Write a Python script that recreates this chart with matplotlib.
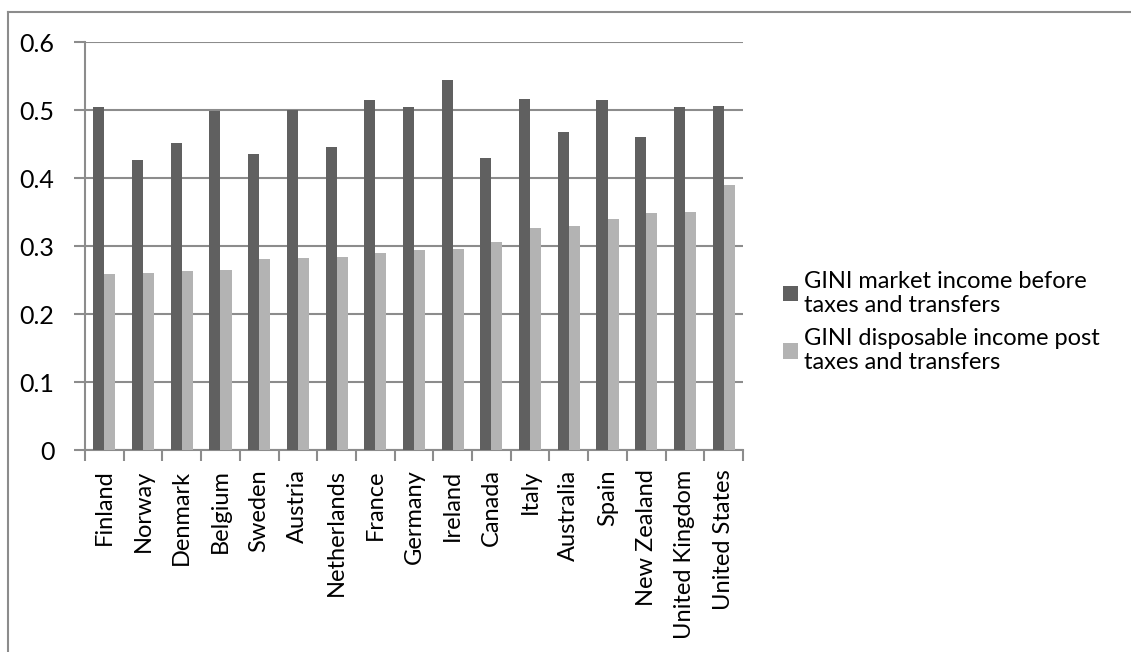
import matplotlib.pyplot as plt
import numpy as np
from matplotlib.lines import Line2D

countries = ["Finland", "Norway", "Denmark", "Belgium", "Sweden", "Austria",
             "Netherlands", "France", "Germany", "Ireland", "Canada", "Italy",
             "Australia", "Spain", "New Zealand", "United Kingdom", "United States"]
gini_market = [0.505, 0.427, 0.451, 0.499, 0.435, 0.500, 0.445, 0.515, 0.504,
               0.544, 0.430, 0.516, 0.468, 0.515, 0.461, 0.505, 0.506]
gini_disposable = [0.259, 0.261, 0.263, 0.265, 0.281, 0.283, 0.284, 0.290, 0.294,
                   0.296, 0.306, 0.327, 0.329, 0.340, 0.348, 0.350, 0.390]
legend_labels = ["GINI market income before\ntaxes and transfers",
                 "GINI disposable income post\ntaxes and transfers"]
yticks = [0, 0.1, 0.2, 0.3, 0.4, 0.5, 0.6]

plt.rcParams['font.family'] = ['Lato', 'DejaVu Sans']

fig = plt.figure(figsize=(11.31, 6.52), dpi=100)
ax = fig.add_axes([85 / 1131, 1 - 450 / 652, (743 - 85) / 1131, (450 - 42) / 652])

grid_c = "#8c8c8c"
x = np.arange(len(countries))
w = 1 / 3.5
ax.bar(x - w / 2, gini_market, w, color="#606060", label=legend_labels[0], zorder=3)
ax.bar(x + w / 2, gini_disposable, w, color="#b3b3b3", label=legend_labels[1], zorder=3)

ax.set_xlim(-0.5, len(countries) - 0.5)
ax.set_ylim(0, 0.6)
ax.set_yticks(yticks)
ax.set_yticklabels(["0", "0.1", "0.2", "0.3", "0.4", "0.5", "0.6"], fontsize=18)
ax.yaxis.grid(True, color=grid_c, linewidth=1.5, zorder=0)

ax.set_xticks(x)
ax.set_xticklabels(countries, rotation=90, fontsize=17)
ax.tick_params(axis='x', length=0, pad=14)
ax.set_xticks(np.arange(-0.5, len(countries)), minor=True)
ax.tick_params(axis='x', which='minor', length=8, color=grid_c, width=1.5)
ax.tick_params(axis='y', length=8, color=grid_c, width=1.5, pad=14)

for s in ["top", "right"]:
    ax.spines[s].set_visible(False)
for s in ["left", "bottom"]:
    ax.spines[s].set_color(grid_c)
    ax.spines[s].set_linewidth(1.5)

ax.legend(loc="center left", bbox_to_anchor=(1.028, 0.314), frameon=False,
          fontsize=17, handlelength=0.65, handleheight=0.65, handletextpad=0.25,
          labelspacing=0.5)

fig.add_artist(Line2D([8 / 1131, 8 / 1131], [0, 1 - 12 / 652], color=grid_c, lw=1.5))
fig.add_artist(Line2D([8 / 1131, 1], [1 - 12 / 652, 1 - 12 / 652], color=grid_c, lw=1.5))

fig.savefig("out.png", dpi=100)
